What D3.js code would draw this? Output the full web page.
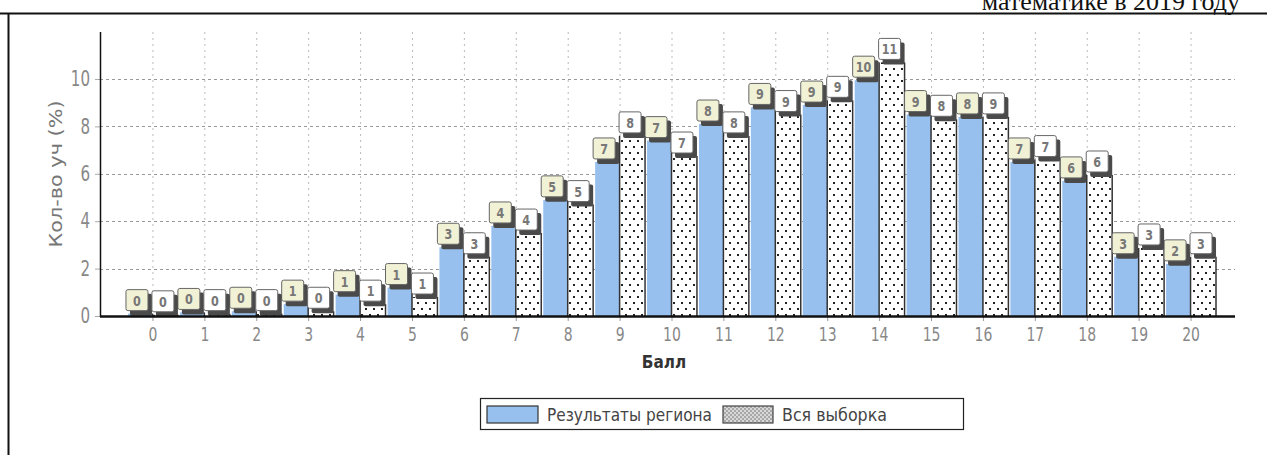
<!DOCTYPE html>
<html><head><meta charset="utf-8">
<script src="https://cdn.jsdelivr.net/npm/d3@7"></script>
<style>
html,body{margin:0;padding:0;background:#fff;}
svg{display:block;}
</style></head>
<body>
<svg id="c" width="1267" height="455"></svg>
<script>
const categories = [0,1,2,3,4,5,6,7,8,9,10,11,12,13,14,15,16,17,18,19,20];
const regionValues = [0.1,0.15,0.2,0.5,0.9,1.2,2.9,3.8,4.9,6.5,7.4,8.1,8.8,8.9,9.95,8.5,8.4,6.5,5.7,2.5,2.2];
const regionLabels = [0,0,0,1,1,1,3,4,5,7,7,8,9,9,10,9,8,7,6,3,2];
const allValues = [0.05,0.1,0.1,0.2,0.5,0.8,2.5,3.5,4.7,7.6,6.75,7.6,8.5,9.1,10.7,8.3,8.4,6.6,5.95,2.87,2.5];
const allLabels = [0,0,0,0,1,1,3,4,5,8,7,8,9,9,11,8,9,7,6,3,3];
const yTicks = [0,2,4,6,8,10];
const seriesNames = ["Результаты региона","Вся выборка"];
const xTitle = "Балл";
const yTitle = "Кол-во уч (%)";
const pageTitle = "математике в 2019 году";

const FONT = "'DejaVu Sans',sans-serif";
const svg = d3.select("#c");

// narrow the glyphs horizontally (the source uses a condensed face)
function condense(sel, s){
  sel.each(function(){
    const t = d3.select(this);
    const x0 = +t.attr("x") || 0;
    t.attr("x", x0 / s).attr("transform", `scale(${s},1)`);
  });
}

const defs = svg.append("defs");
const dots = defs.append("pattern").attr("id","dots").attr("patternUnits","userSpaceOnUse")
  .attr("width",8).attr("height",12);
dots.append("rect").attr("width",8).attr("height",12).attr("fill","#fff");
dots.append("rect").attr("x",1).attr("y",2).attr("width",2).attr("height",2).attr("fill","#222");
dots.append("rect").attr("x",5).attr("y",8).attr("width",2).attr("height",2).attr("fill","#222");
const hatch = defs.append("pattern").attr("id","hatch").attr("patternUnits","userSpaceOnUse")
  .attr("width",4).attr("height",4);
hatch.append("rect").attr("width",4).attr("height",4).attr("fill","#d8d8d8");
hatch.append("rect").attr("width",2).attr("height",2).attr("fill","#a8a8a8");
hatch.append("rect").attr("x",2).attr("y",2).attr("width",2).attr("height",2).attr("fill","#a8a8a8");

// page title (cut off at the top in the source scan) and frame
svg.append("text").attr("x",1240).attr("y",10).attr("text-anchor","end")
  .attr("font-family","'Liberation Serif','DejaVu Serif',serif").attr("font-size",26)
  .attr("fill","#111").text(pageTitle);
svg.append("line").attr("x1",0).attr("x2",1267).attr("y1",13.5).attr("y2",13.5)
  .attr("stroke","#111").attr("stroke-width",2);
svg.append("line").attr("x1",8.5).attr("x2",8.5).attr("y1",13).attr("y2",455)
  .attr("stroke","#111").attr("stroke-width",2);

const x = d3.scaleBand().domain(categories).range([127,1217]).padding(0);
const y = d3.scaleLinear().domain([0,12]).range([316,31.6]);
const bw = x.bandwidth();

// grid
const g = svg.append("g");
g.selectAll(".hg").data(yTicks.filter(d=>d>0)).join("line")
  .attr("x1",100).attr("x2",1235).attr("y1",d=>Math.round(y(d))+0.5).attr("y2",d=>Math.round(y(d))+0.5)
  .attr("stroke","#999").attr("stroke-dasharray","3,3");
g.selectAll(".vg").data(categories).join("line")
  .attr("x1",d=>x(d)+bw/2).attr("x2",d=>x(d)+bw/2).attr("y1",32).attr("y2",316)
  .attr("stroke","#bbb").attr("stroke-dasharray","2,4");

// bars
const bars = svg.append("g");
bars.selectAll(".rb").data(categories).join("rect")
  .attr("x",d=>x(d)+1).attr("width",bw/2-1)
  .attr("y",(d,i)=>y(regionValues[i])).attr("height",(d,i)=>316-y(regionValues[i]))
  .attr("fill","#98c0ee");
bars.selectAll(".ab").data(categories).join("rect")
  .attr("x",d=>x(d)+bw/2).attr("width",bw/2-1)
  .attr("y",(d,i)=>y(allValues[i])).attr("height",(d,i)=>316-y(allValues[i]))
  .attr("fill","url(#dots)");
bars.selectAll(".re").data(categories).join("line")
  .attr("x1",d=>x(d)+bw/2-0.5).attr("x2",d=>x(d)+bw/2-0.5)
  .attr("y1",(d,i)=>y(Math.max(regionValues[i],allValues[i]))).attr("y2",316)
  .attr("stroke","#333").attr("stroke-width",1.5);
bars.selectAll(".ae").data(categories).join("line")
  .attr("x1",d=>x(d)+bw-1).attr("x2",d=>x(d)+bw-1)
  .attr("y1",(d,i)=>y(allValues[i])).attr("y2",316)
  .attr("stroke","#333").attr("stroke-width",1.5);

// value labels
function drawLabels(vals, labs, offset, fill){
  const lg = svg.append("g");
  categories.forEach((c,i)=>{
    const cx = x(c)+offset-3;
    const bottom = y(vals[i]) - 2;
    const w = 22, h = 22;
    lg.append("rect").attr("x",cx-w/2+4).attr("y",bottom-h+4).attr("width",w).attr("height",h)
      .attr("rx",2).attr("fill","#4a4a4a");
    lg.append("rect").attr("x",cx-w/2).attr("y",bottom-h).attr("width",w).attr("height",h-1)
      .attr("rx",2).attr("fill",fill).attr("stroke","#666").attr("stroke-width",1);
    const t = lg.append("text").attr("x",cx).attr("y",bottom-h/2+5).attr("text-anchor","middle")
      .attr("font-family",FONT).attr("font-size",14).attr("font-weight","bold")
      .attr("fill","#777").text(labs[i]);
    condense(t, 0.8);
  });
}
drawLabels(regionValues, regionLabels, bw/4, "#f1f1d6");
drawLabels(allValues, allLabels, 3*bw/4, "#ffffff");

// axes
const ya = d3.axisLeft(y).tickValues(yTicks).tickSize(5).tickPadding(5);
const yg = svg.append("g").attr("transform","translate(100,0)").call(ya);
yg.select(".domain").remove();
yg.selectAll("line").attr("stroke","#aaa");
yg.selectAll("text").attr("font-size",21).attr("fill","#888").attr("font-family",FONT);
condense(yg.selectAll("text"), 0.72);
svg.append("line").attr("x1",100.5).attr("x2",100.5).attr("y1",32).attr("y2",317)
  .attr("stroke","#111").attr("stroke-width",1.5);

const xa = d3.axisBottom(x).tickSize(5).tickPadding(6);
const xg = svg.append("g").attr("transform","translate(0,316)").call(xa);
xg.select(".domain").remove();
xg.selectAll("line").attr("stroke","#999");
xg.selectAll("text").attr("font-size",20).attr("fill","#888").attr("font-family",FONT);
condense(xg.selectAll("text"), 0.7);
svg.append("line").attr("x1",100).attr("x2",1235).attr("y1",316.5).attr("y2",316.5)
  .attr("stroke","#111").attr("stroke-width",2.5);

const xt = svg.append("text").attr("x",664).attr("y",368).attr("text-anchor","middle")
  .attr("font-family",FONT).attr("font-size",18).attr("font-weight","bold").attr("fill","#333").text(xTitle);
condense(xt, 0.85);
svg.append("text").attr("transform","translate(62,174) rotate(-90)").attr("text-anchor","middle")
  .attr("font-family",FONT).attr("font-size",18).attr("fill","#777")
  .attr("textLength",147).attr("lengthAdjust","spacingAndGlyphs").text(yTitle);

// legend
const leg = svg.append("g");
leg.append("rect").attr("x",480.5).attr("y",398.5).attr("width",483).attr("height",31)
  .attr("fill","#fff").attr("stroke","#222").attr("stroke-width",1.2);
leg.append("rect").attr("x",487).attr("y",406).attr("width",51).attr("height",17)
  .attr("fill","#98c0ee").attr("stroke","#333").attr("stroke-width",1.2);
leg.append("text").attr("x",547).attr("y",421).attr("font-family",FONT).attr("font-size",18)
  .attr("fill","#444").attr("textLength",165).attr("lengthAdjust","spacingAndGlyphs").text(seriesNames[0]);
leg.append("rect").attr("x",723).attr("y",406).attr("width",50).attr("height",17)
  .attr("fill","url(#hatch)").attr("stroke","#444").attr("stroke-width",1.2);
leg.append("text").attr("x",782).attr("y",421).attr("font-family",FONT).attr("font-size",18)
  .attr("fill","#444").attr("textLength",105).attr("lengthAdjust","spacingAndGlyphs").text(seriesNames[1]);
</script>
</body></html>
